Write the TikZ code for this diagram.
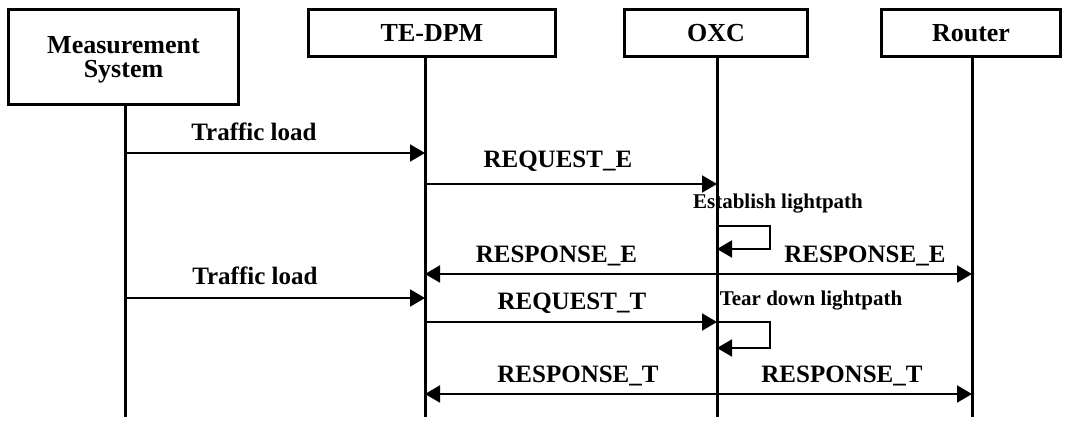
\documentclass[tikz,border=0pt]{standalone}
\usepackage{fontspec}
\setmainfont{Liberation Serif}
\usetikzlibrary{arrows.meta}
\tikzset{
      entity/.style   = { draw, line width=3pt, inner sep=0pt, align=center, text depth=0pt,
                          font=\bfseries\fontsize{26}{24}\selectfont },
      life/.style     = { line width=3pt },
      msg/.style      = { line width=2pt, -{Triangle[length=15pt,width=17pt]} },
      msglabel/.style = { anchor=base, inner sep=0pt, font=\bfseries\fontsize{25}{30}\selectfont },
      note/.style     = { anchor=base, inner sep=0pt, font=\bfseries\fontsize{21}{25}\selectfont }
    }

\begin{document}
\begin{tikzpicture}[x=1pt, y=-1pt]
      \useasboundingbox (0,0) rectangle (1078,420);

      % Draw all entities
      \node[entity, minimum width=230, minimum height=95] (ms)  at (123.5,57) {Measurement\\System};
      \node[entity, minimum width=247, minimum height=47] (te)  at (432,33)   {TE-DPM};
      \node[entity, minimum width=183, minimum height=47] (oxc) at (716,33)   {OXC};
      \node[entity, minimum width=179, minimum height=47] (rt)  at (971,33)   {Router};

      % Draw notes
      \node[note] (est)  at (778,208) {Establish lightpath};
      \node[note] (tear) at (811,305) {Tear down lightpath};

      % Draw lifelines
      \coordinate (msb)  at (125,417);
      \coordinate (teb)  at (425,417);
      \coordinate (oxcb) at (717,417);
      \coordinate (rtb)  at (972,417);
      \draw[life] (ms.south -| msb)  -- (msb);
      \draw[life] (te.south -| teb)  -- (teb);
      \draw[life] (oxc.south -| oxcb) -- (oxcb);
      \draw[life] (rt.south -| rtb)  -- (rtb);

      % Draw messages
      \draw[msg] (msb |- 0,153) -- node[msglabel, pos=.43, yshift=13pt] {Traffic load} (teb |- 0,153);
      \draw[msg] (teb |- 0,184) -- node[msglabel, pos=.455, yshift=17pt] {REQUEST\_E} (oxcb |- 0,184);
      \draw[msg] (oxcb |- 0,226) -| (770,249) -- (oxcb |- 0,249);
      \draw[msg] (oxcb |- 0,274) -- node[msglabel, pos=.55, yshift=12pt] {RESPONSE\_E} (teb |- 0,274);
      \draw[msg] (oxcb |- 0,274) -- node[msglabel, pos=.58, yshift=12pt] {RESPONSE\_E} (rtb |- 0,274);

      \draw[msg] (msb |- 0,298) -- node[msglabel, pos=.433, yshift=14pt] {Traffic load} (teb |- 0,298);
      \draw[msg] (teb |- 0,322) -- node[msglabel, pos=.503, yshift=13pt] {REQUEST\_T} (oxcb |- 0,322);
      \draw[msg] (oxcb |- 0,322) -| (770,348) -- (oxcb |- 0,348);
      \draw[msg] (oxcb |- 0,394) -- node[msglabel, pos=.476, yshift=12pt] {RESPONSE\_T} (teb |- 0,394);
      \draw[msg] (oxcb |- 0,394) -- node[msglabel, pos=.49, yshift=12pt] {RESPONSE\_T} (rtb |- 0,394);
\end{tikzpicture}
\end{document}
